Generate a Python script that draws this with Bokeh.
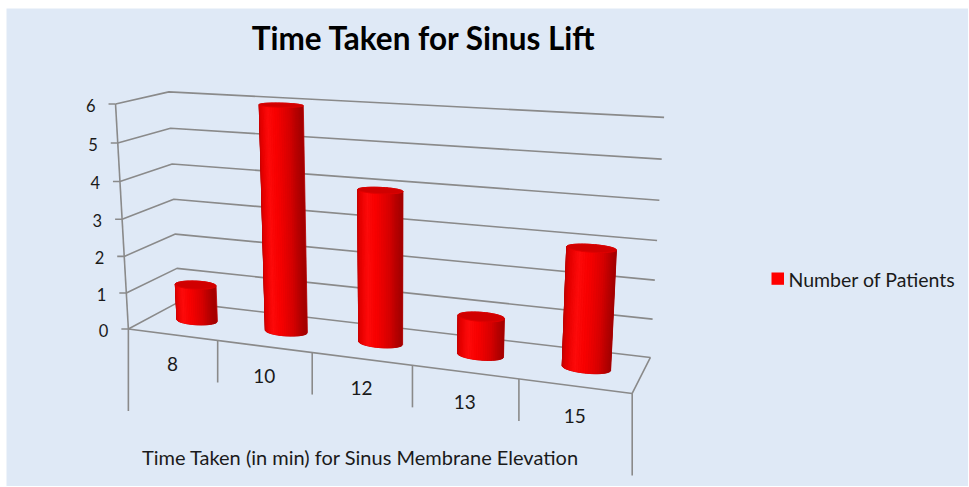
import numpy as np
from bokeh.plotting import figure
from bokeh.models import Range1d
from bokeh.embed import file_html
from bokeh.resources import INLINE
from bokeh.core.properties import value

# ---------------- data ----------------
chart_title = "Time Taken for Sinus Lift"
categories = ["8", "10", "12", "13", "15"]
patients = [1, 6, 4, 1, 3]
y_ticks = [0, 1, 2, 3, 4, 5, 6]
series_name = "Number of Patients"
x_title = "Time Taken (in min) for Sinus Membrane Elevation"

# ---------------- layout ----------------
W, H = 968, 486
OFF = 0
BG = "#dfe9f6"
GRID = "#8a8a8a"
TXT = "#1a1a1a"
FONT = "Lato"
VMAX = 6.0

# perspective calibration of the 3-D box: (u along categories 0..1, value, w depth 0 front..1 back)
# -> page pixel positions of the box corners / rulings
calib = [
    ((0, 6, 0), (115, 104)), ((0, 5, 0), (117, 142)), ((0, 4, 0), (119.5, 180)), ((0, 0, 0), (128, 328)),
    ((0, 6, 1), (168, 92)), ((0, 5, 1), (170, 128)), ((0, 4, 1), (172, 163)), ((0, 2, 1), (175, 233)),
    ((0, 1, 1), (177, 268)), ((0, 0, 1), (177, 303)),
    ((1, 6, 1), (663, 117)), ((1, 5, 1), (662, 159)), ((1, 4, 1), (659, 200)), ((1, 3, 1), (657, 240)),
    ((1, 2, 1), (654, 279)), ((1, 1, 1), (652, 318)), ((1, 0, 1), (650, 356)),
    ((0.2, 0, 0), (218, 340)), ((0.4, 0, 0), (312, 352)), ((0.6, 0, 0), (412, 365)),
    ((0.8, 0, 0), (517, 379)), ((1, 0, 0), (632, 394)),
]


def fit_camera(pts):
    X = np.array([[u, v / VMAX, w, 1.0] for (u, v, w), _ in pts])
    xy = np.array([[x - OFF, y - OFF] for _, (x, y) in pts], float)
    m = xy.mean(0)
    s = xy.std()
    xyn = (xy - m) / s
    A = []
    for Xi, (x, y) in zip(X, xyn):
        A.append(np.r_[Xi, np.zeros(4), -x * Xi])
        A.append(np.r_[np.zeros(4), Xi, -y * Xi])
    _, _, Vt = np.linalg.svd(np.array(A))
    return Vt[-1].reshape(3, 4), m, s


P, M, S = fit_camera(calib)


def proj(u, v, w):
    u, v, w = np.broadcast_arrays(np.asarray(u, float), np.asarray(v, float), np.asarray(w, float))
    X = np.stack([u, v / VMAX, w, np.ones_like(u)], -1)
    h = X @ P.T
    xy = h[..., :2] / h[..., 2:3]
    xy = xy * S + M
    return xy[..., 0], xy[..., 1]


def hull(pts):
    pts = sorted(set(map(tuple, np.round(pts, 3))))

    def cross(o, a, b):
        return (a[0] - o[0]) * (b[1] - o[1]) - (a[1] - o[1]) * (b[0] - o[0])
    lower, upper = [], []
    for p_ in pts:
        while len(lower) >= 2 and cross(lower[-2], lower[-1], p_) <= 0:
            lower.pop()
        lower.append(p_)
    for p_ in reversed(pts):
        while len(upper) >= 2 and cross(upper[-2], upper[-1], p_) <= 0:
            upper.pop()
        upper.append(p_)
    h = lower[:-1] + upper[:-1]
    return [a for a, b in h], [b for a, b in h]


p = figure(width=W, height=H, x_range=Range1d(0, W), y_range=Range1d(H, 0),
           output_backend="svg", toolbar_location=None, min_border=0,
           x_axis_location=None, y_axis_location=None,
           background_fill_color="white", border_fill_color="white", outline_line_color=None)
p.grid.visible = False

# chart area background
p.quad(left=[6], right=[W], top=[8], bottom=[H], fill_color=BG, line_color=None)

# ---------------- walls: gridlines ----------------
gx, gy = [], []
for v in y_ticks:
    xs, ys = proj([0, 0, 1], [v, v, v], [0, 1, 1])
    gx.append(list(xs)); gy.append(list(ys))
p.multi_line(gx, gy, line_color=GRID, line_width=1.6)

# floor front & right edges, value axis
fx, fy = proj([0, 1, 1], [0, 0, 0], [0, 0, 1])
p.line(list(fx), list(fy), line_color=GRID, line_width=1.6)
ax, ay = proj([0, 0], [0, VMAX], [0, 0])
p.line(list(ax), list(ay), line_color=GRID, line_width=1.6)

# ticks and tick labels
tx, ty = proj([0] * len(y_ticks), y_ticks, [0] * len(y_ticks))
p.segment(x0=list(tx - 7), y0=list(ty), x1=list(tx), y1=list(ty), line_color=GRID, line_width=1.6)
p.text(x=list(tx - 20), y=list(ty + 1.5), text=[str(t) for t in y_ticks],
       text_font=value(FONT), text_font_size="16.5px", text_align="right",
       text_baseline="middle", text_color=TXT)

# category dividers below the floor
ncat = len(categories)
dx0, dy0 = proj(np.arange(ncat + 1) / ncat, 0, 0)
dlen = np.array([82 if k in (0, ncat) else 42 for k in range(ncat + 1)])
p.segment(x0=list(dx0), y0=list(dy0), x1=list(dx0), y1=list(dy0 + dlen), line_color=GRID, line_width=1.6)

cx, cy = proj((np.arange(ncat) + 0.5) / ncat, 0, 0)
p.text(x=list(cx), y=list(cy + 29.5), text=categories, text_font=value(FONT),
       text_font_size="19px", text_align="center", text_baseline="middle", text_color=TXT)

# ---------------- cylinders ----------------
RU, RW = 0.044, 0.14
theta = np.linspace(0, 2 * np.pi, 97)
stops_t = np.array([0.0, 0.12, 0.32, 0.55, 0.8, 1.0])
stops_c = np.array([[190, 0, 0], [228, 0, 0], [255, 12, 12], [248, 0, 0], [215, 0, 0], [165, 0, 0]])


def shade(t):
    return "#%02x%02x%02x" % tuple(int(np.interp(t, stops_t, stops_c[:, k])) for k in range(3))


base_xs, base_ys, sx, sy, sc, top_xs, top_ys = [], [], [], [], [], [], []
for i, val in enumerate(patients):
    uc, wc = (i + 0.5) / ncat, 0.5
    uu = uc + RU * np.cos(theta)
    ww = wc + RW * np.sin(theta)
    bx, by = proj(uu, 0, ww)
    tpx, tpy = proj(uu, val, ww)
    hx, hy = hull(np.r_[np.c_[bx, by], np.c_[tpx, tpy]])
    base_xs.append(hx); base_ys.append(hy)
    th = np.linspace(np.pi, 2 * np.pi, 33)
    su = uc + RU * np.cos(th)
    sw = wc + RW * np.sin(th)
    sbx, sby = proj(su, 0, sw)
    stx, sty = proj(su, val, sw)
    for j in range(len(th) - 1):
        sx.append([sbx[j], sbx[j + 1], stx[j + 1], stx[j]])
        sy.append([sby[j], sby[j + 1], sty[j + 1], sty[j]])
        sc.append(shade((np.cos((th[j] + th[j + 1]) / 2) + 1) / 2))
    top_xs.append(list(tpx)); top_ys.append(list(tpy))

p.patches(base_xs, base_ys, fill_color="#b80000", line_color="#b80000", line_width=0.8)
p.patches(sx, sy, fill_color=sc, line_color=sc, line_width=0.7)
p.patches(top_xs, top_ys, fill_color="#d00000", line_color="#e00000", line_width=1.0)

# ---------------- titles & legend ----------------
p.text(x=[423.5 - OFF], y=[37 - OFF], text=[chart_title], text_font=value(FONT), text_font_style="bold",
       text_font_size="31.5px", text_align="center", text_baseline="middle", text_color="#000000")
p.text(x=[360 - OFF], y=[456.5 - OFF], text=[x_title], text_font=value(FONT), text_font_size="20px",
       text_align="center", text_baseline="middle", text_color=TXT)
p.quad(left=[771 - OFF], right=[783.5 - OFF], top=[272 - OFF], bottom=[284.3 - OFF],
       fill_color="#ff0000", line_color=None)
p.text(x=[788 - OFF], y=[278.5 - OFF], text=[series_name], text_font=value(FONT), text_font_size="19.5px",
       text_align="left", text_baseline="middle", text_color=TXT)

open("out.html", "w").write(file_html(p, INLINE))
